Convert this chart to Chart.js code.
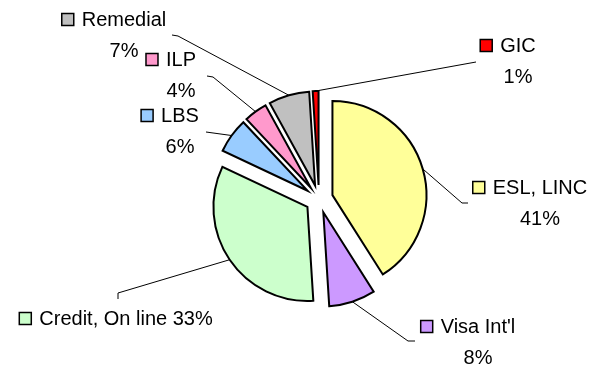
<!DOCTYPE html>
<html>
<head>
<meta charset="utf-8">
<script src="https://cdn.jsdelivr.net/npm/chart.js@4"></script>
<style>
  html, body { margin: 0; padding: 0; background: #fff; }
  #wrap { width: 590px; height: 371px; position: relative; }
</style>
</head>
<body>
<div id="wrap"><canvas id="pieChart"></canvas></div>
<script>
// programme shares (%)
const categories = ['ESL, LINC', "Visa Int'l", 'Credit, On line', 'LBS', 'ILP', 'Remedial', 'GIC'];
const shares = [41, 8, 33, 6, 4, 7, 1];

const sliceColors = ['#ffff99', '#cc99ff', '#ccffcc', '#99ccff', '#ff99cc', '#c0c0c0', '#ff0000'];

// where each label sits: text centre x, first baseline y, and the leader's elbow / tip
const labelPlaces = [
    { x: 540, y: 194, elbow: [462, 203], tip: [468, 203] },
    { x: 478, y: 333, elbow: [408, 341], tip: [415, 341] },
    { x: 126, y: 325, elbow: [118, 293], tip: [118, 299], inline: true },
    { x: 180, y: 122, elbow: [206, 132], tip: [206, 132] },
    { x: 181, y: 66, elbow: [213, 77], tip: [207, 76] },
    { x: 124, y: 26, elbow: [178, 36], tip: [172, 35] },
    { x: 518, y: 52, elbow: [476, 62], tip: [476, 62] }
];

const EXPLODE = 14;
const LABEL_FONT = '20px "Liberation Sans", Arial, sans-serif';
const LINE_GAP = 31;

// pull every slice out from the centre along its mid angle
const explodePlugin = {
    id: 'explode',
    afterDatasetUpdate(chart, args) {
        args.meta.data.forEach(arc => {
            const mid = (arc.startAngle + arc.endAngle) / 2;
            arc.x += Math.cos(mid) * EXPLODE;
            arc.y += Math.sin(mid) * EXPLODE;
        });
    }
};

// leader lines, legend keys and "name / percent" labels
const sliceLabelPlugin = {
    id: 'sliceLabels',
    afterDatasetsDraw(chart) {
        const ctx = chart.ctx;
        const arcs = chart.getDatasetMeta(0).data;
        const total = shares.reduce((a, b) => a + b, 0);
        ctx.save();
        ctx.font = LABEL_FONT;
        ctx.textAlign = 'center';
        ctx.textBaseline = 'alphabetic';
        arcs.forEach((arc, i) => {
            const place = labelPlaces[i];
            const mid = (arc.startAngle + arc.endAngle) / 2;
            const sx = arc.x + Math.cos(mid) * arc.outerRadius;
            const sy = arc.y + Math.sin(mid) * arc.outerRadius;

            // leader
            ctx.strokeStyle = '#000';
            ctx.lineWidth = 1;
            ctx.beginPath();
            ctx.moveTo(sx, sy);
            ctx.lineTo(place.elbow[0], place.elbow[1]);
            ctx.lineTo(place.tip[0], place.tip[1]);
            ctx.stroke();

            const pct = Math.round(shares[i] / total * 100) + '%';
            const lines = place.inline ? [categories[i] + ' ' + pct] : [categories[i], pct];

            // key square left of the first line
            const w = ctx.measureText(lines[0]).width;
            const kx = place.x - w / 2 - 8 - 12;
            ctx.fillStyle = sliceColors[i];
            ctx.fillRect(kx, place.y - 12.5, 12, 12);
            ctx.lineWidth = 1.5;
            ctx.strokeRect(kx, place.y - 12.5, 12, 12);

            ctx.fillStyle = '#000';
            lines.forEach((t, k) => ctx.fillText(t, place.x, place.y + k * LINE_GAP));
        });
        ctx.restore();
    }
};

new Chart(document.getElementById('pieChart'), {
    type: 'pie',
    data: {
        labels: categories,
        datasets: [{
            data: shares,
            backgroundColor: sliceColors,
            borderColor: '#000',
            borderWidth: 2,
            borderJoinStyle: 'miter',
            radius: 94
        }]
    },
    options: {
        responsive: true,
        maintainAspectRatio: false,
        animation: false,
        events: [],
        layout: { padding: { left: 48, top: 27, right: 0, bottom: 0 } },
        plugins: {
            legend: { display: false },
            tooltip: { enabled: false }
        }
    },
    plugins: [explodePlugin, sliceLabelPlugin]
});
</script>
</body>
</html>
